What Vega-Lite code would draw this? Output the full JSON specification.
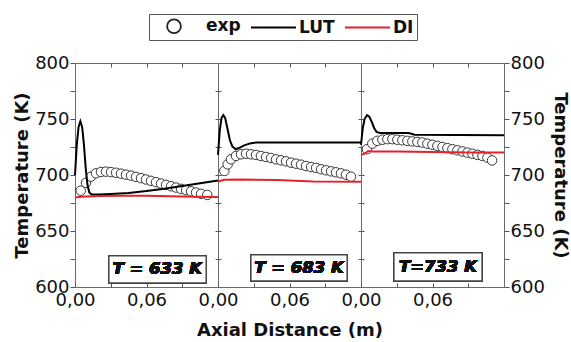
{
  "$schema": "https://vega.github.io/schema/vega-lite/v6.json",
  "padding": {"left": 13, "top": 13, "right": 2, "bottom": 0},
  "background": "white",
  "bounds": "flush",
  "spacing": 0,
  "config": {
    "font": "DejaVu Sans",
    "view": {"stroke": "#6b6b6b", "strokeWidth": 1},
    "axis": {"domain": false, "grid": false, "labelFont": "DejaVu Sans", "labelFontSize": 18, "labelColor": "#111", "tickColor": "#555", "titleFont": "DejaVu Sans", "titleFontSize": 18, "titleFontWeight": "bold", "titleColor": "#111"},
    "legend": {"labelFont": "DejaVu Sans", "labelFontSize": 17, "labelFontWeight": "bold", "labelColor": "#111", "symbolSize": 256, "symbolStrokeWidth": 1.8, "columnPadding": 4, "labelOffset": 36, "padding": 3, "strokeColor": "#555"}
  },
  "datasets": {
    "d": [
      {"panel": 1, "series": "exp", "x": 0.0048, "T": 686},
      {"panel": 1, "series": "exp", "x": 0.0092, "T": 693},
      {"panel": 1, "series": "exp", "x": 0.0134, "T": 698.5},
      {"panel": 1, "series": "exp", "x": 0.0176, "T": 701.5},
      {"panel": 1, "series": "exp", "x": 0.0218, "T": 702.7},
      {"panel": 1, "series": "exp", "x": 0.026, "T": 703},
      {"panel": 1, "series": "exp", "x": 0.0302, "T": 702.6},
      {"panel": 1, "series": "exp", "x": 0.0344, "T": 702},
      {"panel": 1, "series": "exp", "x": 0.0386, "T": 701.2},
      {"panel": 1, "series": "exp", "x": 0.0428, "T": 700.3},
      {"panel": 1, "series": "exp", "x": 0.047, "T": 699.4},
      {"panel": 1, "series": "exp", "x": 0.0512, "T": 698.3},
      {"panel": 1, "series": "exp", "x": 0.0554, "T": 697.2},
      {"panel": 1, "series": "exp", "x": 0.0596, "T": 696},
      {"panel": 1, "series": "exp", "x": 0.0638, "T": 694.8},
      {"panel": 1, "series": "exp", "x": 0.068, "T": 693.6},
      {"panel": 1, "series": "exp", "x": 0.0722, "T": 692.4},
      {"panel": 1, "series": "exp", "x": 0.0764, "T": 691.2},
      {"panel": 1, "series": "exp", "x": 0.0806, "T": 690},
      {"panel": 1, "series": "exp", "x": 0.0848, "T": 688.8},
      {"panel": 1, "series": "exp", "x": 0.089, "T": 687.6},
      {"panel": 1, "series": "exp", "x": 0.0932, "T": 686.5},
      {"panel": 1, "series": "exp", "x": 0.0974, "T": 685.4},
      {"panel": 1, "series": "exp", "x": 0.1016, "T": 684.3},
      {"panel": 1, "series": "exp", "x": 0.1058, "T": 683.2},
      {"panel": 1, "series": "exp", "x": 0.111, "T": 682.2},
      {"panel": 1, "series": "LUT", "x": 0, "T": 700},
      {"panel": 1, "series": "LUT", "x": 0.0015, "T": 727},
      {"panel": 1, "series": "LUT", "x": 0.003, "T": 743},
      {"panel": 1, "series": "LUT", "x": 0.0045, "T": 748},
      {"panel": 1, "series": "LUT", "x": 0.006, "T": 743},
      {"panel": 1, "series": "LUT", "x": 0.0075, "T": 727},
      {"panel": 1, "series": "LUT", "x": 0.009, "T": 706},
      {"panel": 1, "series": "LUT", "x": 0.0105, "T": 691},
      {"panel": 1, "series": "LUT", "x": 0.012, "T": 684.5},
      {"panel": 1, "series": "LUT", "x": 0.014, "T": 682.5},
      {"panel": 1, "series": "LUT", "x": 0.02, "T": 682.5},
      {"panel": 1, "series": "LUT", "x": 0.03, "T": 683},
      {"panel": 1, "series": "LUT", "x": 0.045, "T": 684},
      {"panel": 1, "series": "LUT", "x": 0.06, "T": 685.7},
      {"panel": 1, "series": "LUT", "x": 0.075, "T": 687.8},
      {"panel": 1, "series": "LUT", "x": 0.09, "T": 690.2},
      {"panel": 1, "series": "LUT", "x": 0.105, "T": 692.6},
      {"panel": 1, "series": "LUT", "x": 0.12, "T": 695},
      {"panel": 1, "series": "DI", "x": 0, "T": 680},
      {"panel": 1, "series": "DI", "x": 0.005, "T": 680.5},
      {"panel": 1, "series": "DI", "x": 0.02, "T": 681.2},
      {"panel": 1, "series": "DI", "x": 0.04, "T": 681.5},
      {"panel": 1, "series": "DI", "x": 0.06, "T": 681.5},
      {"panel": 1, "series": "DI", "x": 0.08, "T": 681},
      {"panel": 1, "series": "DI", "x": 0.1, "T": 680.6},
      {"panel": 1, "series": "DI", "x": 0.12, "T": 680.3},
      {"panel": 2, "series": "exp", "x": 0.0053, "T": 703.6},
      {"panel": 2, "series": "exp", "x": 0.0081, "T": 709.5},
      {"panel": 2, "series": "exp", "x": 0.0109, "T": 714},
      {"panel": 2, "series": "exp", "x": 0.0151, "T": 717},
      {"panel": 2, "series": "exp", "x": 0.0193, "T": 718.5},
      {"panel": 2, "series": "exp", "x": 0.0235, "T": 719},
      {"panel": 2, "series": "exp", "x": 0.0277, "T": 718.5},
      {"panel": 2, "series": "exp", "x": 0.0319, "T": 717.9},
      {"panel": 2, "series": "exp", "x": 0.036, "T": 717},
      {"panel": 2, "series": "exp", "x": 0.0403, "T": 716.1},
      {"panel": 2, "series": "exp", "x": 0.0445, "T": 715.2},
      {"panel": 2, "series": "exp", "x": 0.0487, "T": 714},
      {"panel": 2, "series": "exp", "x": 0.0529, "T": 713.1},
      {"panel": 2, "series": "exp", "x": 0.0571, "T": 712.2},
      {"panel": 2, "series": "exp", "x": 0.0613, "T": 711},
      {"panel": 2, "series": "exp", "x": 0.0655, "T": 710.1},
      {"panel": 2, "series": "exp", "x": 0.0697, "T": 709.2},
      {"panel": 2, "series": "exp", "x": 0.0739, "T": 708},
      {"panel": 2, "series": "exp", "x": 0.0781, "T": 707.1},
      {"panel": 2, "series": "exp", "x": 0.0823, "T": 706.3},
      {"panel": 2, "series": "exp", "x": 0.0865, "T": 705.1},
      {"panel": 2, "series": "exp", "x": 0.0907, "T": 704.2},
      {"panel": 2, "series": "exp", "x": 0.0949, "T": 703.3},
      {"panel": 2, "series": "exp", "x": 0.099, "T": 702.4},
      {"panel": 2, "series": "exp", "x": 0.1032, "T": 701.5},
      {"panel": 2, "series": "exp", "x": 0.1074, "T": 700.3},
      {"panel": 2, "series": "exp", "x": 0.1116, "T": 698.5},
      {"panel": 2, "series": "LUT", "x": 0, "T": 718},
      {"panel": 2, "series": "LUT", "x": 0.0015, "T": 740},
      {"panel": 2, "series": "LUT", "x": 0.003, "T": 751},
      {"panel": 2, "series": "LUT", "x": 0.0045, "T": 753.5},
      {"panel": 2, "series": "LUT", "x": 0.006, "T": 751},
      {"panel": 2, "series": "LUT", "x": 0.008, "T": 741},
      {"panel": 2, "series": "LUT", "x": 0.01, "T": 731},
      {"panel": 2, "series": "LUT", "x": 0.012, "T": 725.5},
      {"panel": 2, "series": "LUT", "x": 0.015, "T": 723},
      {"panel": 2, "series": "LUT", "x": 0.018, "T": 724.3},
      {"panel": 2, "series": "LUT", "x": 0.022, "T": 726.5},
      {"panel": 2, "series": "LUT", "x": 0.027, "T": 728.2},
      {"panel": 2, "series": "LUT", "x": 0.032, "T": 729},
      {"panel": 2, "series": "LUT", "x": 0.06, "T": 729},
      {"panel": 2, "series": "LUT", "x": 0.09, "T": 729},
      {"panel": 2, "series": "LUT", "x": 0.12, "T": 729},
      {"panel": 2, "series": "DI", "x": 0, "T": 694},
      {"panel": 2, "series": "DI", "x": 0.005, "T": 695.8},
      {"panel": 2, "series": "DI", "x": 0.02, "T": 696},
      {"panel": 2, "series": "DI", "x": 0.05, "T": 695.5},
      {"panel": 2, "series": "DI", "x": 0.08, "T": 694.2},
      {"panel": 2, "series": "DI", "x": 0.12, "T": 694},
      {"panel": 3, "series": "exp", "x": 0.005, "T": 723},
      {"panel": 3, "series": "exp", "x": 0.0095, "T": 728},
      {"panel": 3, "series": "exp", "x": 0.0137, "T": 730.5},
      {"panel": 3, "series": "exp", "x": 0.0179, "T": 731.5},
      {"panel": 3, "series": "exp", "x": 0.0221, "T": 732},
      {"panel": 3, "series": "exp", "x": 0.0263, "T": 732},
      {"panel": 3, "series": "exp", "x": 0.0305, "T": 731.5},
      {"panel": 3, "series": "exp", "x": 0.0347, "T": 731},
      {"panel": 3, "series": "exp", "x": 0.0389, "T": 730.5},
      {"panel": 3, "series": "exp", "x": 0.0431, "T": 730},
      {"panel": 3, "series": "exp", "x": 0.0473, "T": 729.5},
      {"panel": 3, "series": "exp", "x": 0.0515, "T": 729},
      {"panel": 3, "series": "exp", "x": 0.0557, "T": 728},
      {"panel": 3, "series": "exp", "x": 0.0599, "T": 727},
      {"panel": 3, "series": "exp", "x": 0.0641, "T": 726},
      {"panel": 3, "series": "exp", "x": 0.0683, "T": 725},
      {"panel": 3, "series": "exp", "x": 0.0725, "T": 724},
      {"panel": 3, "series": "exp", "x": 0.0767, "T": 723},
      {"panel": 3, "series": "exp", "x": 0.0809, "T": 722},
      {"panel": 3, "series": "exp", "x": 0.0851, "T": 721},
      {"panel": 3, "series": "exp", "x": 0.0893, "T": 720},
      {"panel": 3, "series": "exp", "x": 0.0935, "T": 719},
      {"panel": 3, "series": "exp", "x": 0.0977, "T": 718},
      {"panel": 3, "series": "exp", "x": 0.1019, "T": 717},
      {"panel": 3, "series": "exp", "x": 0.1061, "T": 715.5},
      {"panel": 3, "series": "exp", "x": 0.11, "T": 713},
      {"panel": 3, "series": "LUT", "x": 0, "T": 727},
      {"panel": 3, "series": "LUT", "x": 0.0015, "T": 742},
      {"panel": 3, "series": "LUT", "x": 0.003, "T": 750},
      {"panel": 3, "series": "LUT", "x": 0.005, "T": 753.5},
      {"panel": 3, "series": "LUT", "x": 0.007, "T": 752},
      {"panel": 3, "series": "LUT", "x": 0.009, "T": 747.5},
      {"panel": 3, "series": "LUT", "x": 0.011, "T": 742},
      {"panel": 3, "series": "LUT", "x": 0.013, "T": 738.5},
      {"panel": 3, "series": "LUT", "x": 0.016, "T": 737.5},
      {"panel": 3, "series": "LUT", "x": 0.04, "T": 737.5},
      {"panel": 3, "series": "LUT", "x": 0.045, "T": 736},
      {"panel": 3, "series": "LUT", "x": 0.08, "T": 735.8},
      {"panel": 3, "series": "LUT", "x": 0.12, "T": 735.5},
      {"panel": 3, "series": "DI", "x": 0, "T": 718},
      {"panel": 3, "series": "DI", "x": 0.003, "T": 719},
      {"panel": 3, "series": "DI", "x": 0.006, "T": 721.5},
      {"panel": 3, "series": "DI", "x": 0.01, "T": 721},
      {"panel": 3, "series": "DI", "x": 0.03, "T": 721},
      {"panel": 3, "series": "DI", "x": 0.06, "T": 720.5},
      {"panel": 3, "series": "DI", "x": 0.09, "T": 720.2},
      {"panel": 3, "series": "DI", "x": 0.12, "T": 720.2}
    ]
  },
  "data": {"name": "d"},
  "hconcat": [
    {
      "width": 143, "height": 224,
      "transform": [{"filter": "datum.panel === 1"}],
      "layer": [
        {
          "transform": [{"filter": "datum.series === 'exp'"}],
          "mark": {"type": "point", "shape": "circle", "filled": false, "fill": "white", "size": 90, "strokeWidth": 0.9, "opacity": 1},
          "encoding": {
            "x": {"field": "x", "type": "quantitative", "scale": {"domain": [0, 0.12], "nice": false, "zero": false}, "axis": {"orient": "bottom", "title": null, "values": [0, 0.03, 0.06, 0.09], "labelExpr": "datum.value == 0 ? '0,00' : (abs(datum.value - 0.06) < 0.0001 ? '0,06' : '')", "tickSize": -4, "labelPadding": 8, "labelFlush": false}},
            "y": {"field": "T", "type": "quantitative", "scale": {"domain": [600, 800], "nice": false, "zero": false}, "axis": {"orient": "left", "title": "Temperature (K)", "values": [600, 625, 650, 675, 700, 725, 750, 775, 800], "labelExpr": "datum.value % 50 === 0 ? datum.label : ''", "tickSize": 5, "labelPadding": 1, "titlePadding": 3}},
            "color": {"field": "series", "type": "nominal", "scale": {"domain": ["exp", "LUT", "DI"], "range": ["#222222", "#000000", "#e8202a"]}}
          }
        },
        {
          "transform": [{"filter": "datum.series === 'LUT'"}],
          "mark": {"type": "line", "strokeWidth": 2},
          "encoding": {
            "x": {"field": "x", "type": "quantitative", "axis": {"orient": "top", "title": null, "labels": false, "values": [0.03, 0.06, 0.09], "tickSize": -4}},
            "y": {"field": "T", "type": "quantitative", "axis": {"orient": "right", "title": null, "labels": false, "values": [625, 650, 675, 700, 725, 750, 775], "tickSize": 3}},
            "color": {"field": "series", "type": "nominal"}
          }
        },
        {
          "transform": [{"filter": "datum.series === 'DI'"}],
          "mark": {"type": "line", "strokeWidth": 2},
          "encoding": {
            "x": {"field": "x", "type": "quantitative", "axis": null},
            "y": {"field": "T", "type": "quantitative", "axis": null},
            "color": {"field": "series", "type": "nominal"}
          }
        },
        {
          "mark": {"type": "rect", "fill": "white", "stroke": "#444", "strokeWidth": 1.2},
          "encoding": {
            "x": {"datum": 0.0285, "type": "quantitative", "axis": null},
            "x2": {"datum": 0.110},
            "y": {"datum": 627.7, "type": "quantitative", "axis": null},
            "y2": {"datum": 603.6}
          }
        },
        {
          "mark": {"type": "text", "text": "T = 633 K", "font": "DejaVu Sans", "fontSize": 16.5, "fontWeight": "bold", "fontStyle": "italic", "align": "center", "baseline": "middle", "fill": "#111"},
          "encoding": {
            "x": {"datum": 0.069, "type": "quantitative", "axis": null},
            "y": {"datum": 615.7, "type": "quantitative", "axis": null}
          }
        },
        {
          "transform": [{"filter": "false"}],
          "mark": {"type": "point", "filled": false, "opacity": 1},
          "encoding": {
            "x": {"field": "x", "type": "quantitative", "axis": null},
            "y": {"field": "T", "type": "quantitative", "axis": null},
            "color": {"field": "series", "type": "nominal", "legend": {"title": null, "orient": "none", "direction": "horizontal", "legendX": 74, "legendY": -49, "labelExpr": "datum.label === 'DI' ? 'DI\u00a0\u00a0\u00a0\u00a0' : datum.label"}},
            "shape": {"field": "series", "type": "nominal", "scale": {"domain": ["exp", "LUT", "DI"], "range": ["M2.485,0A0.86,0.86,0,1,1,0.765,0A0.86,0.86,0,1,1,2.485,0Z", "M-0.375,0L5.25,0", "M-0.375,0L5.25,0"]}, "legend": {"title": null, "orient": "none", "direction": "horizontal", "legendX": 74, "legendY": -49, "labelExpr": "datum.label === 'DI' ? 'DI\u00a0\u00a0\u00a0\u00a0' : datum.label"}}
          }
        }
      ],
      "resolve": {"axis": {"x": "independent", "y": "independent"}}
    },
    {
      "width": 143, "height": 224,
      "transform": [{"filter": "datum.panel === 2"}],
      "layer": [
        {
          "transform": [{"filter": "datum.series === 'exp'"}],
          "mark": {"type": "point", "shape": "circle", "filled": false, "fill": "white", "size": 90, "strokeWidth": 0.9, "opacity": 1},
          "encoding": {
            "x": {"field": "x", "type": "quantitative", "scale": {"domain": [0, 0.12], "nice": false, "zero": false}, "axis": {"orient": "bottom", "title": "Axial Distance (m)", "titlePadding": 12, "values": [0, 0.03, 0.06, 0.09], "labelExpr": "datum.value == 0 ? '0,00' : (abs(datum.value - 0.06) < 0.0001 ? '0,06' : '')", "tickSize": -4, "labelPadding": 8, "labelFlush": false}},
            "y": {"field": "T", "type": "quantitative", "scale": {"domain": [600, 800], "nice": false, "zero": false}, "axis": {"orient": "left", "title": null, "labels": false, "values": [625, 650, 675, 700, 725, 750, 775], "tickSize": 3}},
            "color": {"field": "series", "type": "nominal"}
          }
        },
        {
          "transform": [{"filter": "datum.series === 'LUT'"}],
          "mark": {"type": "line", "strokeWidth": 2},
          "encoding": {
            "x": {"field": "x", "type": "quantitative", "axis": {"orient": "top", "title": null, "labels": false, "values": [0.03, 0.06, 0.09], "tickSize": -4}},
            "y": {"field": "T", "type": "quantitative", "axis": {"orient": "right", "title": null, "labels": false, "values": [625, 650, 675, 700, 725, 750, 775], "tickSize": 3}},
            "color": {"field": "series", "type": "nominal"}
          }
        },
        {
          "transform": [{"filter": "datum.series === 'DI'"}],
          "mark": {"type": "line", "strokeWidth": 2},
          "encoding": {
            "x": {"field": "x", "type": "quantitative", "axis": null},
            "y": {"field": "T", "type": "quantitative", "axis": null},
            "color": {"field": "series", "type": "nominal"}
          }
        },
        {
          "mark": {"type": "rect", "fill": "white", "stroke": "#444", "strokeWidth": 1.2},
          "encoding": {
            "x": {"datum": 0.0277, "type": "quantitative", "axis": null},
            "x2": {"datum": 0.1083},
            "y": {"datum": 628.6, "type": "quantitative", "axis": null},
            "y2": {"datum": 605.4}
          }
        },
        {
          "mark": {"type": "text", "text": "T = 683 K", "font": "DejaVu Sans", "fontSize": 16.5, "fontWeight": "bold", "fontStyle": "italic", "align": "center", "baseline": "middle", "fill": "#111"},
          "encoding": {
            "x": {"datum": 0.068, "type": "quantitative", "axis": null},
            "y": {"datum": 617, "type": "quantitative", "axis": null}
          }
        }
      ],
      "resolve": {"axis": {"x": "independent", "y": "independent"}}
    },
    {
      "width": 143, "height": 224,
      "transform": [{"filter": "datum.panel === 3"}],
      "layer": [
        {
          "transform": [{"filter": "datum.series === 'exp'"}],
          "mark": {"type": "point", "shape": "circle", "filled": false, "fill": "white", "size": 90, "strokeWidth": 0.9, "opacity": 1},
          "encoding": {
            "x": {"field": "x", "type": "quantitative", "scale": {"domain": [0, 0.12], "nice": false, "zero": false}, "axis": {"orient": "bottom", "title": null, "values": [0, 0.03, 0.06, 0.09], "labelExpr": "datum.value == 0 ? '0,00' : (abs(datum.value - 0.06) < 0.0001 ? '0,06' : '')", "tickSize": -4, "labelPadding": 8, "labelFlush": false}},
            "y": {"field": "T", "type": "quantitative", "scale": {"domain": [600, 800], "nice": false, "zero": false}, "axis": {"orient": "left", "title": null, "labels": false, "values": [625, 650, 675, 700, 725, 750, 775], "tickSize": 3}},
            "color": {"field": "series", "type": "nominal"}
          }
        },
        {
          "transform": [{"filter": "datum.series === 'LUT'"}],
          "mark": {"type": "line", "strokeWidth": 2},
          "encoding": {
            "x": {"field": "x", "type": "quantitative", "axis": {"orient": "top", "title": null, "labels": false, "values": [0.03, 0.06, 0.09], "tickSize": -4}},
            "y": {"field": "T", "type": "quantitative", "axis": {"orient": "right", "title": "Temperature (K)", "values": [600, 625, 650, 675, 700, 725, 750, 775, 800], "labelExpr": "datum.value % 50 === 0 ? datum.label : ''", "tickSize": 5, "labelPadding": 1, "titlePadding": 6}},
            "color": {"field": "series", "type": "nominal"}
          }
        },
        {
          "transform": [{"filter": "datum.series === 'DI'"}],
          "mark": {"type": "line", "strokeWidth": 2},
          "encoding": {
            "x": {"field": "x", "type": "quantitative", "axis": null},
            "y": {"field": "T", "type": "quantitative", "axis": null},
            "color": {"field": "series", "type": "nominal"}
          }
        },
        {
          "mark": {"type": "rect", "fill": "white", "stroke": "#444", "strokeWidth": 1.2},
          "encoding": {
            "x": {"datum": 0.0277, "type": "quantitative", "axis": null},
            "x2": {"datum": 0.1015},
            "y": {"datum": 630.4, "type": "quantitative", "axis": null},
            "y2": {"datum": 605.4}
          }
        },
        {
          "mark": {"type": "text", "text": "T=733 K", "font": "DejaVu Sans", "fontSize": 16.5, "fontWeight": "bold", "fontStyle": "italic", "align": "center", "baseline": "middle", "fill": "#111"},
          "encoding": {
            "x": {"datum": 0.0646, "type": "quantitative", "axis": null},
            "y": {"datum": 618, "type": "quantitative", "axis": null}
          }
        }
      ],
      "resolve": {"axis": {"x": "independent", "y": "independent"}}
    }
  ]
}
